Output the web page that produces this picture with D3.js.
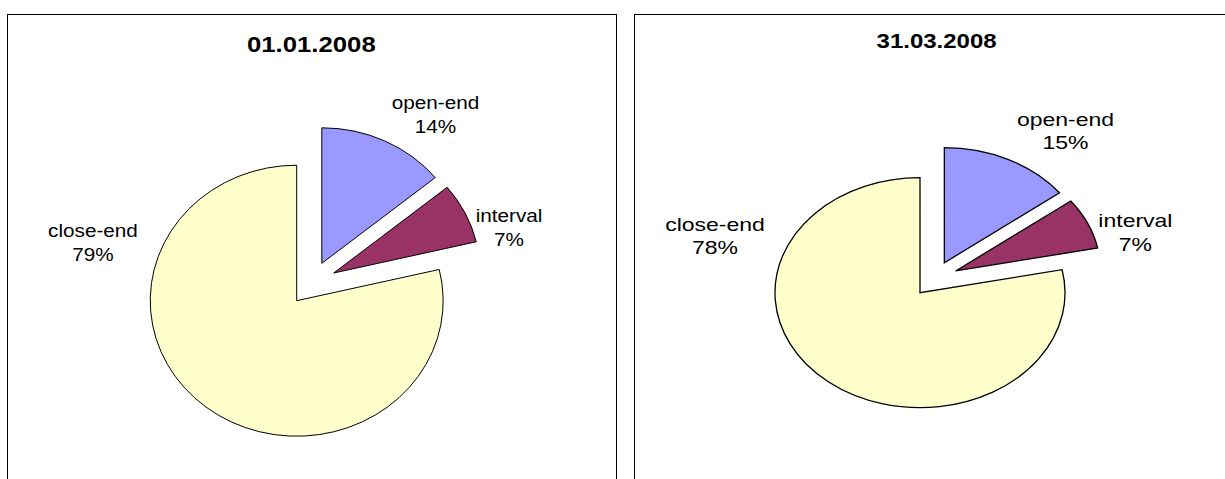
<!DOCTYPE html>
<html>
<head>
<meta charset="utf-8">
<script src="https://cdn.jsdelivr.net/npm/d3@7"></script>
<style>
  html, body { margin: 0; padding: 0; background: #fff; }
  svg { display: block; }
  text { font-family: "Liberation Sans", Arial, sans-serif; fill: #000; }
</style>
</head>
<body>
<svg id="chart" width="1225" height="479"></svg>
<script>
// ---- data ----
const categories = ["open-end", "interval", "close-end"];
const valuesJan = [14.1, 7.2, 78.7];   // 01.01.2008
const valuesMar = [14.6, 7.2, 78.2];   // 31.03.2008
const titles = ["01.01.2008", "31.03.2008"];
const exploded = [true, true, false];
const colors = ["#9999FF", "#993366", "#FFFFCC"];

// ---- layout ----
const panels = [
  { values: valuesJan, title: titles[0],
    frame: { x: 7.5, y: 14.5, w: 609, h: 500 },
    cx: 296.7, cy: 300.7, R: 135.5, sx: 1.081, explode: 0.325, stroke: 1,
    titlePos: [311.3, 52], titleFont: 22, titleSx: 1.17,
    labelFont: 18.5, labelSx: 1.12, lineGap: 24.5,
    labelPos: [[435.5, 109], [509, 221.7], [93, 237]] },
  { values: valuesMar, title: titles[1],
    frame: { x: 634.5, y: 14.5, w: 620, h: 500 },
    cx: 920, cy: 292.7, R: 115, sx: 1.261, explode: 0.31, stroke: 1.3,
    titlePos: [936.6, 48], titleFont: 20, titleSx: 1.2,
    labelFont: 17.7, labelSx: 1.3, lineGap: 23.5,
    labelPos: [[1065.5, 125.7], [1135.4, 227.3], [715, 231]] }
];

const svg = d3.select("#chart");

panels.forEach(p => {
  const root = svg.append("g");
  root.append("rect")
    .attr("x", p.frame.x).attr("y", p.frame.y)
    .attr("width", p.frame.w).attr("height", p.frame.h)
    .attr("fill", "#fff").attr("stroke", "#000").attr("stroke-width", 1);

  // title
  root.append("text")
    .attr("transform", `translate(${p.titlePos[0]},${p.titlePos[1]}) scale(${p.titleSx},1)`)
    .attr("text-anchor", "middle")
    .attr("font-weight", "bold")
    .attr("font-size", p.titleFont)
    .text(p.title);

  const data = categories.map((c, i) => ({ name: c, value: p.values[i], exploded: exploded[i], color: colors[i] }));
  const pie = d3.pie().sort(null).value(d => d.value).startAngle(0).endAngle(2 * Math.PI);
  const arcs = pie(data);
  const arc = d3.arc().innerRadius(0).outerRadius(p.R);

  // direction of explosion: halfway between slice bisector and exploded-group bisector
  const ex = arcs.filter(a => a.data.exploded);
  const groupBis = ex.length ? (d3.min(ex, a => a.startAngle) + d3.max(ex, a => a.endAngle)) / 2 : 0;

  const g = root.append("g")
    .attr("transform", `translate(${p.cx},${p.cy}) scale(${p.sx},1)`);

  g.selectAll("path.slice")
    .data(arcs)
    .join("path")
    .attr("class", "slice")
    .attr("transform", a => {
      if (!a.data.exploded) return null;
      const bis = (a.startAngle + a.endAngle) / 2;
      const dir = (bis + groupBis) / 2;
      const d = p.R * p.explode;
      return `translate(${d * Math.sin(dir)},${-d * Math.cos(dir)})`;
    })
    .attr("d", arc)
    .attr("fill", a => a.data.color)
    .attr("stroke", "#000")
    .attr("stroke-width", p.stroke)
    .attr("stroke-linejoin", "miter")
    .attr("vector-effect", "non-scaling-stroke");

  // labels
  arcs.forEach((a, i) => {
    const [lx, ly] = p.labelPos[i];
    const t = root.append("text")
      .attr("transform", `translate(${lx},${ly}) scale(${p.labelSx},1)`)
      .attr("text-anchor", "middle")
      .attr("font-size", p.labelFont);
    t.append("tspan").attr("x", 0).attr("y", 0).text(a.data.name);
    t.append("tspan").attr("x", 0).attr("y", p.lineGap).text(Math.round(a.data.value) + "%");
  });
});
</script>
</body>
</html>
